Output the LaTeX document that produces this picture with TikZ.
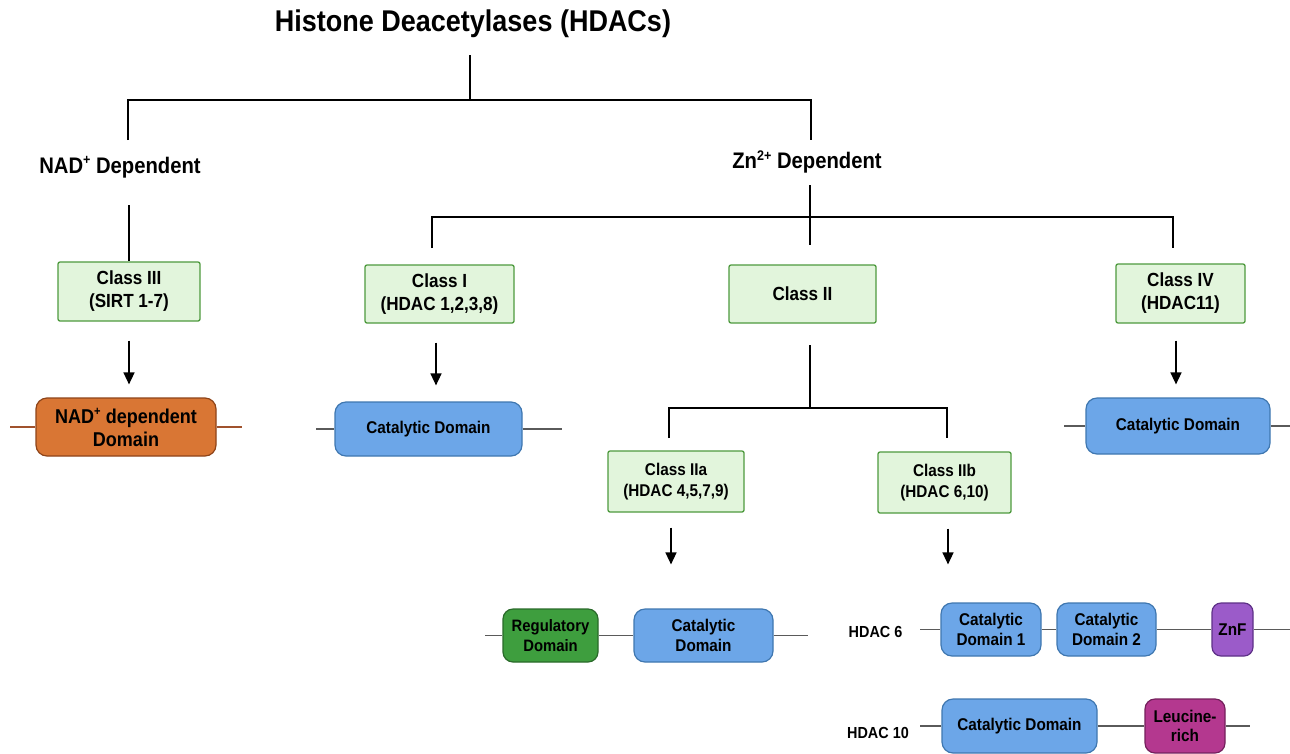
\documentclass[tikz,border=0pt]{standalone}
\usepackage{fontspec}
\usepackage{graphicx}
\setmainfont{Liberation Sans}[FakeStretch=0.9]
\usetikzlibrary{arrows.meta}
\definecolor{lgreen}{HTML}{E2F5DC}
\definecolor{dgreen}{HTML}{4E9A3E}
\definecolor{domblue}{HTML}{6CA6E8}
\definecolor{domblueb}{HTML}{3F77B0}
\definecolor{domorange}{HTML}{D97634}
\definecolor{domorangeb}{HTML}{8E4419}
\definecolor{domgreen}{HTML}{3E9E3E}
\definecolor{domgreenb}{HTML}{2A6A2A}
\definecolor{dompurple}{HTML}{9B5BC9}
\definecolor{dompurpleb}{HTML}{5E3187}
\definecolor{dommag}{HTML}{B4388F}
\definecolor{dommagb}{HTML}{74205C}
\definecolor{bbgray}{HTML}{5A5A5A}
\definecolor{bbbrown}{HTML}{A0522D}
\newcommand{\supsm}[1]{\raisebox{0.75ex}{\scalebox{0.62}{#1}}}
\tikzset{
  tree/.style={line width=1.6pt, black},
  arr/.style={line width=1.5pt, black, -{Triangle[length=12pt,width=11pt]}},
  classbox/.style={draw=dgreen, fill=lgreen, line width=1.3pt, rounded corners=2pt, align=center, inner sep=0pt, font=\bfseries\fontsize{19}{23}\selectfont},
  subbox/.style={classbox, font=\bfseries\fontsize{17}{21}\selectfont},
  dom/.style={line width=1.2pt, rounded corners=11pt, align=center, inner sep=0pt, font=\bfseries\fontsize{17}{19.5}\selectfont},
  blued/.style={dom, draw=domblueb, fill=domblue},
  bb/.style={line width=1.3pt, bbgray},
  lbl/.style={font=\bfseries\fontsize{22.5}{26}\selectfont, inner sep=0pt},
  hlbl/.style={font=\bfseries\fontsize{16}{19}\selectfont, inner sep=0pt}
}
\begin{document}
\begin{tikzpicture}[x=1pt,y=-1pt]
\useasboundingbox (0,0) rectangle (1290,753);
\fill[white] (0,0) rectangle (1290,753);

% title and first split
\node[font=\bfseries\fontsize{30}{34}\selectfont, inner sep=0pt] (title) at (473,24) {Histone Deacetylases (HDACs)};
\coordinate (t0) at (470,55);
\coordinate (j0) at (470,100);
\coordinate (nl) at (128,140);
\coordinate (zl) at (811,140);
\draw[tree] (t0) -- (j0);
\draw[tree] (nl) |- (j0) -| (zl);

\node[lbl] (nad) at (120,167) {NAD\supsm{+} Dependent};
\node[lbl] (zn) at (807,162) {Zn\supsm{2+} Dependent};

% NAD branch
\node[classbox, minimum width=142pt, minimum height=59pt] (c3) at (129,291.5) {Class III\\(SIRT 1-7)};
\coordinate (n2) at (129,205);
\draw[tree] (n2) -- (c3.north);
\node[dom, draw=domorangeb, fill=domorange, minimum width=180pt, minimum height=58pt, font=\bfseries\fontsize{20}{23}\selectfont] (nadd) at (126,427) {NAD\supsm{+} dependent\\Domain};
\coordinate (na1) at (10,427);
\coordinate (na2) at (242,427);
\draw[line width=1.3pt, bbbrown] (na1) -- (nadd.west);
\draw[line width=1.3pt, bbbrown] (nadd.east) -- (na2);
\draw[arr] ([yshift=-19pt]c3.south) -- ([xshift=3pt,yshift=13pt]nadd.north);

% Zn branch
\coordinate (z2) at (810,185);
\coordinate (z3) at (810,245);
\coordinate (zj) at (810,217);
\coordinate (c1t) at (432,248);
\coordinate (c4t) at (1173,248);
\draw[tree] (z2) -- (z3);
\draw[tree] (c1t) |- (zj) -| (c4t);

\node[classbox, minimum width=149pt, minimum height=58pt] (c1) at (439.5,294) {Class I\\(HDAC 1,2,3,8)};
\node[classbox, minimum width=147pt, minimum height=58pt] (c2) at (802.5,294) {Class II};
\node[classbox, minimum width=129pt, minimum height=59pt] (c4) at (1180.5,293.5) {Class IV\\(HDAC11)};

% Class I domain
\node[blued, minimum width=187pt, minimum height=54pt] (cd1d) at (428.5,429) {Catalytic Domain};
\coordinate (ca1) at (316,429);
\coordinate (ca2) at (562,429);
\draw[bb] (ca1) -- (cd1d.west);
\draw[bb] (cd1d.east) -- (ca2);
\draw[arr] ([xshift=-3.5pt,yshift=-19pt]c1.south) -- ([xshift=7.5pt,yshift=16pt]cd1d.north);

% Class IV domain
\node[blued, minimum width=184pt, minimum height=56pt] (cd4d) at (1178,426) {Catalytic Domain};
\coordinate (cb1) at (1064,426);
\coordinate (cb2) at (1290,426);
\draw[bb] (cb1) -- (cd4d.west);
\draw[bb] (cd4d.east) -- (cb2);
\draw[arr] ([xshift=-4.5pt,yshift=-17pt]c4.south) -- ([xshift=-2pt,yshift=13pt]cd4d.north);

% Class II split
\coordinate (k0) at (810,345);
\coordinate (kj) at (810,408);
\coordinate (ka) at (669,438);
\coordinate (kb) at (947,438);
\draw[tree] (k0) -- (kj);
\draw[tree] (ka) |- (kj) -| (kb);

\node[subbox, minimum width=136pt, minimum height=61pt] (c2a) at (676,481.5) {Class IIa\\(HDAC 4,5,7,9)};
\node[subbox, minimum width=133pt, minimum height=61pt] (c2b) at (944.5,482.5) {Class IIb\\(HDAC 6,10)};

% Class IIa domains
\node[dom, draw=domgreenb, fill=domgreen, minimum width=95pt, minimum height=53pt, rounded corners=10pt, font=\bfseries\fontsize{16.5}{19.5}\selectfont] (reg) at (550.5,635.5) {Regulatory\\Domain};
\node[blued, minimum width=139pt, minimum height=53pt] (cat2a) at (703.5,635.5) {Catalytic\\Domain};
\coordinate (ra1) at (485,635.5);
\coordinate (ra2) at (808,635.5);
\draw[bb] (ra1) -- (reg.west);
\draw[bb] (reg.east) -- (cat2a.west);
\draw[bb] (cat2a.east) -- (ra2);
\draw[arr] ([xshift=-5pt,yshift=-15pt]c2a.south) -- ([xshift=-32.5pt,yshift=44pt]cat2a.north);

% Class IIb: HDAC 6
\node[hlbl] (h6) at (875.5,632) {HDAC 6};
\node[blued, minimum width=100pt, minimum height=53pt] (hcd1) at (991,629.5) {Catalytic\\Domain 1};
\node[blued, minimum width=99pt, minimum height=53pt] (hcd2) at (1106.5,629.5) {Catalytic\\Domain 2};
\node[dom, draw=dompurpleb, fill=dompurple, minimum width=41pt, minimum height=53pt, rounded corners=9pt] (znf) at (1232.5,629.5) {ZnF};
\coordinate (hb1) at (920,629.5);
\coordinate (hb2) at (1290,629.5);
\draw[bb] (hb1) -- (hcd1.west);
\draw[bb] (hcd1.east) -- (hcd2.west);
\draw[bb] (hcd2.east) -- (znf.west);
\draw[bb] (znf.east) -- (hb2);
\draw[arr] ([xshift=3.5pt,yshift=-15pt]c2b.south) -- ([xshift=-43pt,yshift=38pt]hcd1.north);

% Class IIb: HDAC 10
\node[hlbl] (h10) at (878,733) {HDAC 10};
\node[blued, minimum width=155pt, minimum height=54pt] (hcd10) at (1019.5,726) {Catalytic Domain};
\node[dom, draw=dommagb, fill=dommag, minimum width=80pt, minimum height=54pt, rounded corners=10pt] (leu) at (1185,726) {Leucine-\\rich};
\coordinate (hc1) at (920,726);
\coordinate (hc2) at (1250,726);
\draw[bb] (hc1) -- (hcd10.west);
\draw[bb] (hcd10.east) -- (leu.west);
\draw[bb] (leu.east) -- (hc2);
\end{tikzpicture}
\end{document}
